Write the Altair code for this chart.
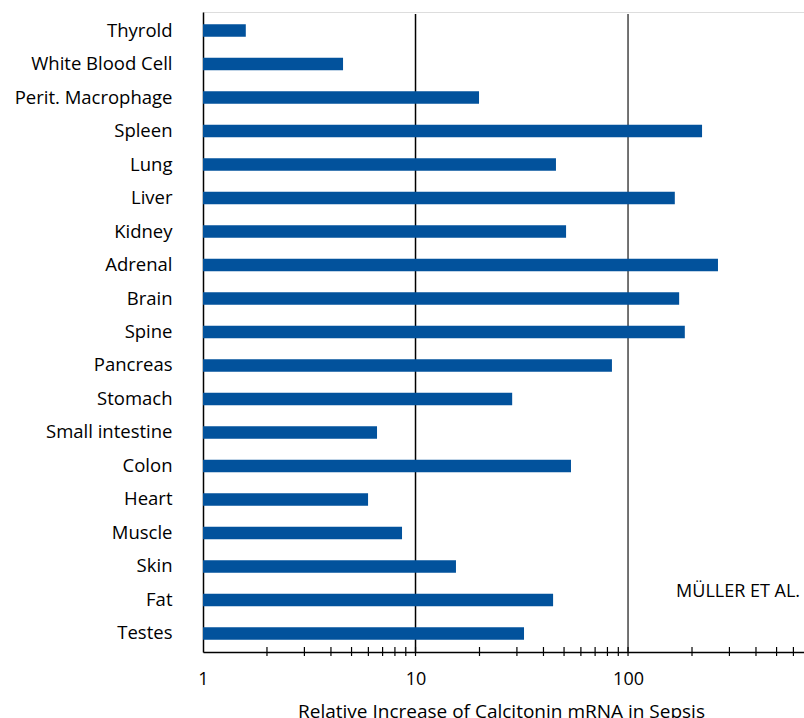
import altair as alt
import pandas as pd

tissues = ["Thyrold", "White Blood Cell", "Perit. Macrophage", "Spleen", "Lung",
           "Liver", "Kidney", "Adrenal", "Brain", "Spine", "Pancreas", "Stomach",
           "Small intestine", "Colon", "Heart", "Muscle", "Skin", "Fat", "Testes"]
increase = [1.59, 4.56, 19.9, 223, 45.8, 166, 51.1, 265, 174, 185, 84, 28.5,
            6.59, 53.9, 5.98, 8.64, 15.5, 44.4, 32.4]
grid_values = [10, 100]
grid_colors = ["#000000", "#444444"]
tick_values = [2, 3, 4, 5, 6, 7, 8, 9, 10, 20, 30, 40, 50, 60, 70, 80, 90, 100,
               200, 300, 400, 500, 600]
label_values = [1, 10, 100]
note = "MÜLLER ET AL."
x_title = "Relative Increase of Calcitonin mRNA in Sepsis"

FONT = "Open Sans"
BLUE = "#02529c"

df = pd.DataFrame({"tissue": tissues, "value": increase})
grid_df = pd.DataFrame({"v": grid_values, "c": grid_colors})
tick_df = pd.DataFrame({"v": tick_values})

xscale = alt.Scale(type="log", domain=[1, 673])

bars = alt.Chart(df).mark_bar(color=BLUE).encode(
    x=alt.X("value:Q", scale=xscale,
            axis=alt.Axis(values=label_values, format="d", grid=False, ticks=False,
                          domainColor="black", domainWidth=1.5,
                          labelFont=FONT, labelFontSize=18, labelColor="black",
                          labelPadding=18, labelFlush=False,
                          title=x_title, titleFont=FONT, titleFontSize=19,
                          titleFontWeight="normal", titleColor="black",
                          titleX=298, titleY=65, titleBaseline="alphabetic",
                          titleAnchor="middle", titleAlign="center")),
    x2=alt.datum(1),
    y=alt.Y("tissue:N", sort=tissues,
            scale=alt.Scale(paddingInner=0.627, paddingOuter=0.366),
            axis=alt.Axis(title=None, ticks=False, domainColor="black", domainWidth=1.5,
                          labelFont=FONT, labelFontSize=18.5, labelColor="black",
                          labelPadding=31)),
)

grid = alt.Chart(grid_df).mark_rule(strokeWidth=1.5).encode(
    x=alt.X("v:Q", scale=xscale),
    y=alt.value(2), y2=alt.value(640),
    color=alt.Color("c:N", scale=None),
)

ticks = alt.Chart(tick_df).mark_rule(strokeWidth=1.2, color="black").encode(
    x=alt.X("v:Q", scale=xscale),
    y=alt.value(635), y2=alt.value(644),
)

label = alt.Chart(pd.DataFrame({"t": [note]})).mark_text(
    font=FONT, fontSize=18, color="black", align="left", baseline="alphabetic", clip=True
).encode(
    x=alt.datum(168.3, scale=xscale),
    y=alt.value(584.7),
    text="t:N",
)

chart = alt.layer(grid, bars, ticks, label).properties(
    width=601, height=640,
    padding={"left": 203, "top": 12, "right": 0, "bottom": 66},
    autosize=alt.AutoSizeParams(type="none"),
).configure_view(stroke=None).configure(background="white")

chart.save("out.html", embed_options={"renderer": "svg", "actions": False})
